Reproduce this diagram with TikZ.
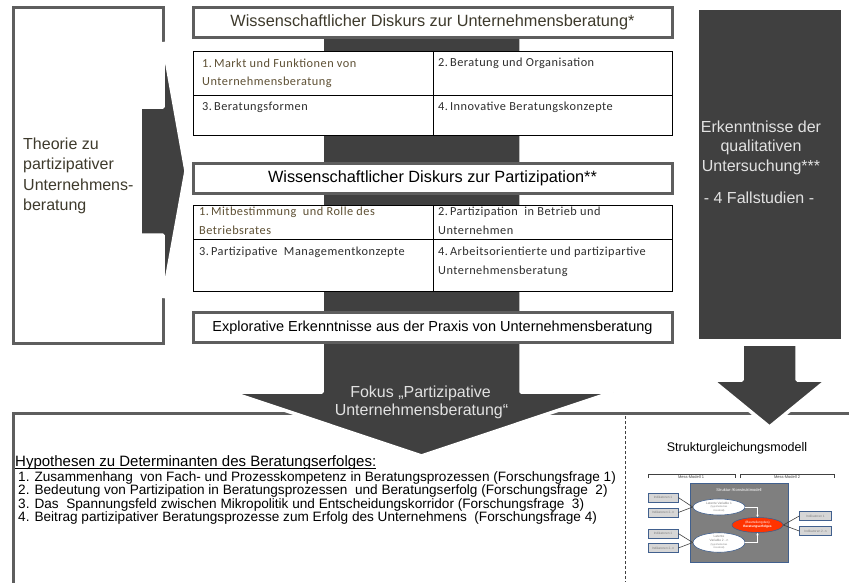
\documentclass[tikz,border=0pt]{standalone}
\usepackage{fontspec}
\setmainfont{Liberation Sans}
\newfontfamily\calib{Carlito}[LetterSpace=4]
\usetikzlibrary{shapes.geometric,arrows.meta}
\definecolor{darkc}{HTML}{404040}
\definecolor{framec}{HTML}{5E5E5E}
\definecolor{olive}{HTML}{5E5034}
\definecolor{olivedark}{HTML}{3E3A2C}
\definecolor{celltext}{HTML}{2E2E2E}
\definecolor{lightt}{HTML}{E2E2E2}
\definecolor{bluec}{HTML}{41608E}
\definecolor{midgray}{HTML}{7F7F7F}
\definecolor{indfill}{HTML}{D6D6D6}
\definecolor{redc}{HTML}{FF3300}
\tikzset{
  titlebox/.style={draw=framec, line width=3pt, fill=white, inner sep=0pt, minimum width=479pt, minimum height=30pt, font=\fontsize{16.3}{19}\selectfont},
  cellbox/.style={draw=black, line width=0.8pt, fill=white, inner sep=0pt},
  celltxt/.style={anchor=west, inner sep=0pt, font=\calib\fontsize{12.3}{14}\selectfont, text=celltext},
  arrowshape/.style={fill=darkc, draw=white, line width=3.5pt, line join=bevel},
  frameline/.style={draw=framec, line width=3pt},
  bigtxt/.style={inner sep=0pt, font=\fontsize{16}{19}\selectfont},
  hyp/.style={anchor=west, inner sep=0pt, font=\fontsize{13.6}{14}\selectfont},
  indbox/.style={draw=bluec, line width=0.5pt, fill=indfill, minimum width=30pt, minimum height=9pt, inner sep=0pt, font=\fontsize{3.2}{4}\selectfont, text=gray},
  tiny/.style={inner sep=0pt, font=\fontsize{4}{4.5}\selectfont},
  ell/.style={ellipse, draw=bluec, line width=0.6pt, fill=white, inner sep=0pt, align=center, font=\fontsize{3.2}{3.8}\selectfont, text=gray}
}
\begin{document}
\begin{tikzpicture}[x=1pt,y=-1pt]
\useasboundingbox (0,0) rectangle (849,582);
% frames
\draw[frameline] (163,7) -- (13,7) -- (13,343) -- (163,343) -- cycle;
\draw[frameline] (849,413) -- (13,413) -- (13,585);
\draw[draw=darkc, line width=0.7pt, dash pattern=on 3pt off 2pt] (625,416) -- (625,582);
% arrows
\path[arrowshape] (322,30) -- (521,30) -- (521,392) -- (613,392) -- (421.5,456) -- (230,392) -- (322,392) -- cycle;
\path[arrowshape] (697,8) rectangle (843,341);
\path[arrowshape] (742,344) -- (797,344) -- (797,380) -- (827,380) -- (769.5,427) -- (712,380) -- (742,380) -- cycle;
\path[arrowshape] (140,107) -- (163,107) -- (163,42) -- (186,171) -- (163,298) -- (163,235) -- (140,235) -- cycle;
% left box text
\node[anchor=west, inner sep=0pt, align=left, font=\fontsize{16}{20.3}\selectfont, text=olivedark] (theo) at (23,176) {Theorie zu\\partizipativer\\Unternehmens-\\beratung};
% title boxes
\node[titlebox, text=olivedark] (t1) at (432.5,22) {Wissenschaftlicher Diskurs zur Unternehmensberatung*};
\node[titlebox, text=black] (t2) at (432.5,178.5) {Wissenschaftlicher Diskurs zur Partizipation**};
\node[titlebox, text=black, font=\fontsize{14.5}{17}\selectfont] (t3) at (432.5,327.5) {Explorative Erkenntnisse aus der Praxis von Unternehmensberatung};
% table 1
\node[cellbox, minimum width=240pt, minimum height=44pt] (a1) at (313,73) {};
\node[cellbox, minimum width=239pt, minimum height=44pt] (a2) at (552.5,73) {};
\node[cellbox, minimum width=240pt, minimum height=40pt] (a3) at (313,115) {};
\node[cellbox, minimum width=239pt, minimum height=40pt] (a4) at (552.5,115) {};
\node[celltxt, text=olive] (a1t) at (202,63) {1.\,Markt und Funktionen von};
\node[celltxt, text=olive] (a1u) at (202,82) {Unternehmensberatung};
\node[celltxt] (a2t) at (438,63) {2.\,Beratung und Organisation};
\node[celltxt] (a3t) at (202,107) {3.\,Beratungsformen};
\node[celltxt] (a4t) at (438,107) {4.\,Innovative\ Beratungskonzepte};
% table 2
\node[cellbox, minimum width=240pt, minimum height=34pt] (b1) at (313,222) {};
\node[cellbox, minimum width=239pt, minimum height=34pt] (b2) at (552.5,222) {};
\node[cellbox, minimum width=240pt, minimum height=52pt] (b3) at (313,265) {};
\node[cellbox, minimum width=239pt, minimum height=52pt] (b4) at (552.5,265) {};
\node[celltxt, text=olive] (b1t) at (199,212) {1.\,Mitbestimmung\ \ und Rolle des};
\node[celltxt, text=olive] (b1u) at (199,230) {Betriebsrates};
\node[celltxt] (b2t) at (438,212) {2.\,Partizipation\ \ in Betrieb und};
\node[celltxt] (b2u) at (438,230) {Unternehmen};
\node[celltxt] (b3t) at (199,252) {3.\,Partizipative\ \ Managementkonzepte};
\node[celltxt] (b4t) at (438,252) {4.\,Arbeitsorientierte und partizipartive};
\node[celltxt] (b4u) at (438,271) {Unternehmensberatung};
% right box text
\node[bigtxt, text=lightt] (r1) at (761,127) {Erkenntnisse der};
\node[bigtxt, text=lightt] (r2) at (761,147) {qualitativen};
\node[bigtxt, text=lightt] (r3) at (761,167) {Untersuchung***};
\node[bigtxt, text=lightt] (r4) at (759,198) {- 4 Fallstudien -};
% Fokus text
\node[bigtxt, text=lightt] (f1) at (420.5,393) {Fokus „Partizipative};
\node[bigtxt, text=lightt] (f2) at (421.5,411) {Unternehmensberatung“};
% hypotheses
\node[anchor=west, inner sep=0pt, font=\fontsize{15}{17}\selectfont] (h0) at (15,463) {Hypothesen zu Determinanten des Beratungserfolges:};
\draw[black, line width=0.9pt] ([yshift=-1.8pt]h0.base west) -- ([yshift=-1.8pt]h0.base east);
\node[hyp] (h1) at (18,477.5) {1. Zusammenhang\ \ von Fach- und Prozesskompetenz in Beratungsprozessen (Forschungsfrage 1)};
\node[hyp] (h2) at (18,491) {2. Bedeutung von Partizipation in Beratungsprozessen\ \ und Beratungserfolg (Forschungsfrage\ \ 2)};
\node[hyp] (h3) at (18,504.5) {3. Das\ \ Spannungsfeld zwischen Mikropolitik und Entscheidungskorridor (Forschungsfrage\ \ 3)};
\node[hyp] (h4) at (18,518) {4. Beitrag partizipativer Beratungsprozesse zum Erfolg des Unternehmens\ \ (Forschungsfrage 4)};
% structural model
\node[inner sep=0pt, font=\fontsize{12.5}{14}\selectfont] (sg) at (737,448) {Strukturgleichungsmodell};
\draw[darkc, line width=0.6pt] (648,478) -- (648,474) -- (735,474) -- (735,478);
\draw[darkc, line width=0.6pt] (740,478) -- (740,474) -- (834,474) -- (834,478);
\node[tiny, text=darkc] (mm1) at (691,477.5) {Mess-Modell 1};
\node[tiny, text=darkc] (mm2) at (787,477.5) {Mess-Modell 2};
\node[draw=bluec, line width=0.7pt, fill=midgray, minimum width=98pt, minimum height=79pt, inner sep=0pt] (sk) at (739,522.5) {};
\node[tiny, text=white] (skt) at (739,490) {Struktur-/Konstruktmodell};
\node[indbox] (i1) at (663,497.5) {Indikatoren 1};
\node[indbox] (i2) at (663,512.5) {Indikatoren 2..n};
\node[indbox] (i3) at (663,533.5) {Indikatoren 1};
\node[indbox] (i4) at (663,548) {Indikatoren 2..n};
\node[indbox, minimum width=32pt] (i5) at (815.5,516) {Indikatoren 1};
\node[indbox, minimum width=32pt] (i6) at (815.5,531) {Indikatoren 2..n};
\node[ell, minimum width=52pt, minimum height=16pt] (e1) at (719,507) {Latente Variable 1\\[-0.3pt]\fontsize{2.4}{2.8}\selectfont (hypothetisches\\\fontsize{2.4}{2.8}\selectfont Konstrukt)};
\node[ell, minimum width=52pt, minimum height=18pt] (e2) at (719,542.5) {Latente\\Variable 2 - n\\[-0.3pt]\fontsize{2.4}{2.8}\selectfont (hypothetisches\\\fontsize{2.4}{2.8}\selectfont Konstrukt)};
\node[ell, fill=redc, text=white, minimum width=51pt, minimum height=15pt] (e3) at (757.5,525) {(Beurteilung des)\\\bfseries Beratungserfolges};
\draw[darkc, line width=0.6pt] (i1.east) -- (e1.west);
\draw[darkc, line width=0.6pt] (i2.east) -- (e1.west);
\draw[darkc, line width=0.6pt] (i3.east) -- (e2.west);
\draw[darkc, line width=0.6pt] (i4.east) -- (e2.west);
\draw[darkc, line width=0.6pt] (e3.east) -- (i5.west);
\draw[darkc, line width=0.6pt] (e3.east) -- (i6.west);
\draw[white, line width=0.8pt, -{Stealth[length=2.5pt,width=2.5pt]}] (e1.east) -| (e3.north);
\draw[white, line width=0.8pt, -{Stealth[length=2.5pt,width=2.5pt]}] (e2.east) -| (e3.south);
\end{tikzpicture}
\end{document}
